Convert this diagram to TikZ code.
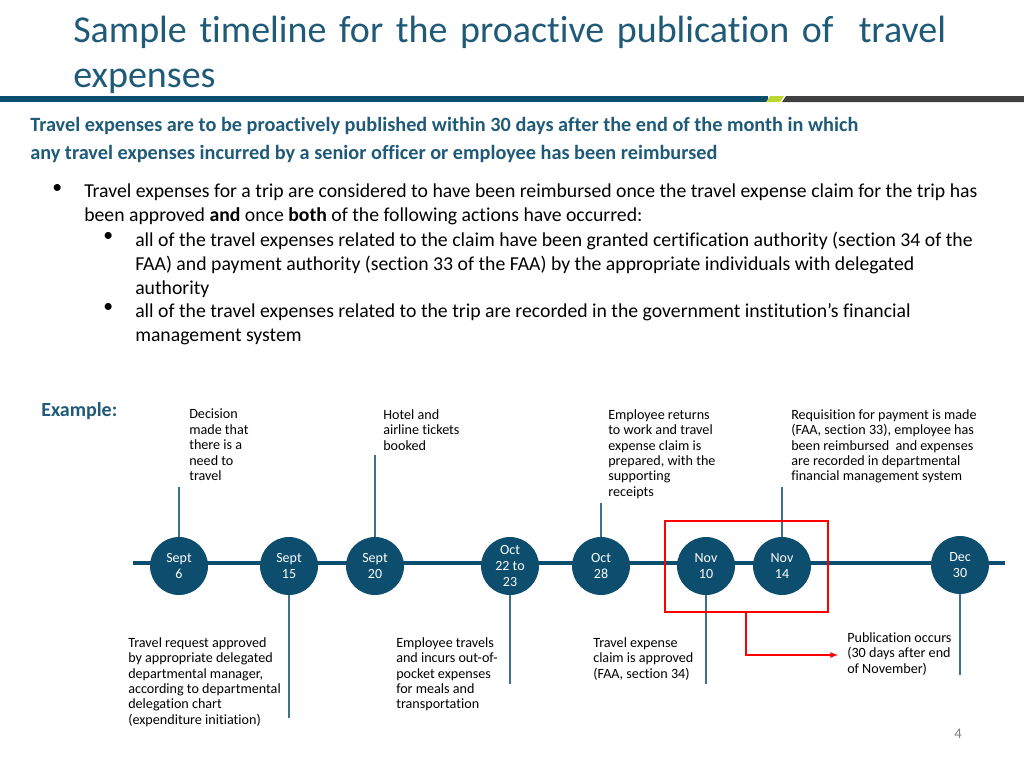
\documentclass[tikz,border=0pt]{standalone}
\usepackage{fontspec}
\setmainfont{Carlito}[Ligatures=NoCommon]
\usetikzlibrary{positioning}
\definecolor{navy}{RGB}{13,78,110}
\definecolor{titleblue}{RGB}{31,90,120}
\definecolor{barlime}{RGB}{190,214,48}
\definecolor{bargrey}{RGB}{64,64,64}
\tikzset{
  day/.style={circle,fill=navy,minimum size=58pt*0.75,inner sep=0pt,text=white,font=\fontsize{10.5}{12}\selectfont,align=center},
  note/.style={anchor=north west,align=left,inner sep=0pt,font=\fontsize{10.6}{11.6}\selectfont},
  bodytext/.style={note,font=\fontsize{14.8}{18}\selectfont},
  stem/.style={navy!80,line width=0.9pt},
  redline/.style={red,line width=1pt}
}
\begin{document}
\begin{tikzpicture}[x=0.75pt,y=-0.75pt]
	\useasboundingbox (0,0) rectangle (1024,768);
	% title and bar
	\node[anchor=west,text=titleblue,font=\fontsize{28.5}{34}\selectfont,align=left,text width=720pt,inner sep=0pt] (title) at (73,55)
		{Sample timeline for the proactive publication of\ \ travel\\expenses};
	\fill[navy] (0,96) rectangle (768,102);
	\fill[barlime] (770,96) -- (784,96) -- (780,102) -- (766,102) -- cycle;
	\fill[bargrey] (786,96) -- (1024,96) -- (1024,102) -- (782,102) -- cycle;
	\node[note,text=titleblue,font=\bfseries\fontsize{15.2}{21}\selectfont] (lead) at (30,117)
		{Travel expenses are to be proactively published within 30 days after the end of the month in which\\any travel expenses incurred by a senior officer or employee has been reimbursed};
	\node[bodytext] (bul) at (52,184) {\textbullet};
	\node[bodytext] (body) at (84,184)
		{Travel expenses for a trip are considered to have been reimbursed once the travel expense claim for the trip has\\
		been approved \textbf{and} once \textbf{both} of the following actions have occurred:};
	\node[bodytext] (bul2) at (103,232) {\textbullet};
	\node[bodytext] (sub1) at (135,232)
		{all of the travel expenses related to the claim have been granted certification authority (section 34 of the\\
		FAA) and payment authority (section 33 of the FAA) by the appropriate individuals with delegated\\authority};
	\node[bodytext] (bul3) at (103,303) {\textbullet};
	\node[bodytext] (sub2) at (135,303)
		{all of the travel expenses related to the trip are recorded in the government institution’s financial\\management system};
	\node[note,text=titleblue,font=\bfseries\fontsize{15}{16}\selectfont] (example) at (41,402) {Example:};

	% timeline
	\draw[navy,line width=3pt] (133,563) -- (1005,563);
	\node[day] (s6) at (179,566) {Sept\\6};
	\node[day] (s15) at (289,566) {Sept\\15};
	\node[day] (s20) at (375,566) {Sept\\20};
	\node[day] (o22) at (510,566) {Oct\\22 to\\23};
	\node[day] (o28) at (601,566) {Oct\\28};
	\node[day] (n10) at (706,566) {Nov\\10};
	\node[day] (n14) at (782,566) {Nov\\14};
	\node[day] (d30) at (960,565) {Dec\\30};

	% notes above
	\node[note] (decide) at (189,409) {Decision\\made that\\there is a\\need to\\travel};
	\node[note] (hotel) at (383,409) {Hotel and\\airline tickets\\booked};
	\node[note] (back) at (608,409) {Employee returns\\to work and travel\\expense claim is\\prepared, with the\\supporting\\receipts};
	\node[note] (pay) at (791,409) {Requisition for payment is made\\(FAA, section 33), employee has\\been reimbursed\ \ and expenses\\are recorded in departmental\\financial management system};
	% notes below
	\node[note] (approve) at (128,637) {Travel request approved\\by appropriate delegated\\departmental manager,\\according to departmental\\delegation chart\\(expenditure initiation)};
	\node[note] (travels) at (396,637) {Employee travels\\and incurs out-of-\\pocket expenses\\for meals and\\transportation};
	\node[note] (claim) at (593,637) {Travel expense\\claim is approved\\(FAA, section 34)};
	\node[note] (publish) at (847,632) {Publication occurs\\(30 days after end\\of November)};

	% stems
	\coordinate (t6) at (179,487);
	\coordinate (t20) at (375,455);
	\coordinate (t28) at (601,503);
	\coordinate (t14) at (782,487);
	\coordinate (b15) at (289,718);
	\coordinate (b22) at (510,684);
	\coordinate (b10) at (706,684);
	\coordinate (b30) at (960,675);
	\draw[stem] (s6) -- (t6);
	\draw[stem] (s20) -- (t20);
	\draw[stem] (o28) -- (t28);
	\draw[stem] (n14) -- (t14);
	\draw[stem] (s15) -- (b15);
	\draw[stem] (o22) -- (b22);
	\draw[stem] (n10) -- (b10);
	\draw[stem] (d30) -- (b30);

	% highlight
	\draw[redline,line width=2pt] (665,521) rectangle (828,612);
	\coordinate (hb) at (746,612);
	\coordinate (he) at (838,655);
	\draw[redline,-latex] (hb) -- (hb |- he) -- (he);

	\node[text=gray,font=\fontsize{11}{13}\selectfont] (page) at (958,734) {4};
\end{tikzpicture}
\end{document}
